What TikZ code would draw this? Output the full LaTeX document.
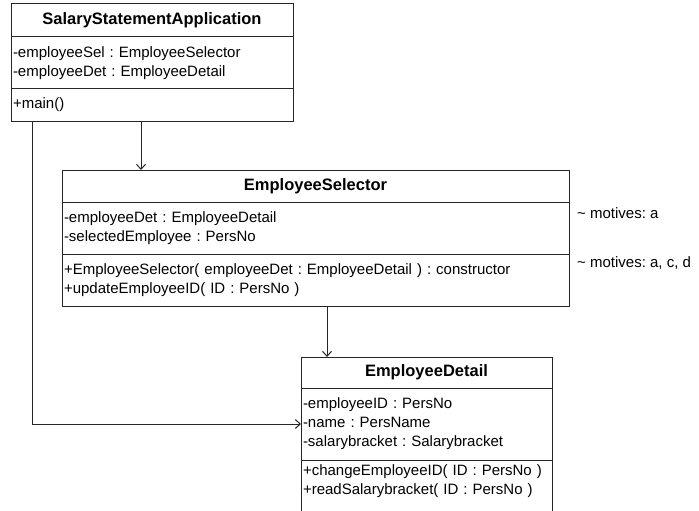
\documentclass[tikz,border=0pt]{standalone}
\usepackage{fontspec}
\setmainfont{Liberation Sans}
\usetikzlibrary{arrows.meta, positioning}
\frenchspacing
\newcommand{\umlfont}{\fontsize{15}{19}\selectfont}
\newcommand{\umlbold}{\fontsize{16.5}{19}\selectfont\bfseries}

\tikzset{
  compartment/.style={draw=black!85, line width=1pt, rectangle, inner sep=0pt, outer sep=0pt},
  members/.style={font=\umlfont, align=left, inner xsep=2pt, inner ysep=0pt, outer sep=0pt},
  classname/.style={compartment, font=\umlbold},
  assoc/.style={draw=black!85, line width=1pt, -{Straight Barb[length=5pt, width=9pt]}},
  note/.style={font=\umlfont, anchor=west, inner sep=0pt},
}

\begin{document}
\begin{tikzpicture}[x=1pt, y=-1pt]
\fill[white] (0,0) rectangle (699,511);
\useasboundingbox (0,0) rectangle (699,511);

\node[classname, minimum width=282, minimum height=33, anchor=north west] (apptitle) at (11,4) {SalaryStatementApplication};
\node[compartment, members, text width=278, minimum height=52, below=0pt of apptitle] (appattr) {-employeeSel : EmployeeSelector\\-employeeDet : EmployeeDetail};
\node[compartment, members, text width=278, minimum height=32, below=0pt of appattr] (appops) {+main()};

\node[classname, minimum width=507, minimum height=32, anchor=north west] (seltitle) at (62,170) {EmployeeSelector};
\node[compartment, members, text width=503, minimum height=52, below=0pt of seltitle] (selattr) {-employeeDet : EmployeeDetail\\-selectedEmployee : PersNo};
\node[compartment, members, text width=503, minimum height=52, below=0pt of selattr] (selops) {+EmployeeSelector( employeeDet : EmployeeDetail ) : constructor\\+updateEmployeeID( ID : PersNo )};

\node[note] (attrnote) at (577,213) {\textasciitilde{} motives: a};
\node[note] (opsnote) at (577,263) {\textasciitilde{} motives: a, c, d};

\node[classname, minimum width=251, minimum height=31, anchor=north west] (dettitle) at (301,357) {EmployeeDetail};
\node[compartment, members, text width=247, minimum height=72, below=0pt of dettitle] (detattr) {-employeeID : PersNo\\-name : PersName\\-salarybracket : Salarybracket};
\node[compartment, minimum width=251, minimum height=60, below=0pt of detattr] (detops) {};
\node[members, text width=247, minimum height=43, anchor=north] (detopstext) at (detops.north) {+changeEmployeeID( ID : PersNo )\\+readSalarybracket( ID : PersNo )};

\draw[assoc] ([xshift=130]appops.south west) -- ([xshift=130]appops.south west |- seltitle.north);
\draw[assoc] ([xshift=26]dettitle.north west |- selops.south) -- ([xshift=26]dettitle.north west);
\draw[assoc] ([xshift=21]appops.south west) |- (detattr.west);
\end{tikzpicture}
\end{document}
